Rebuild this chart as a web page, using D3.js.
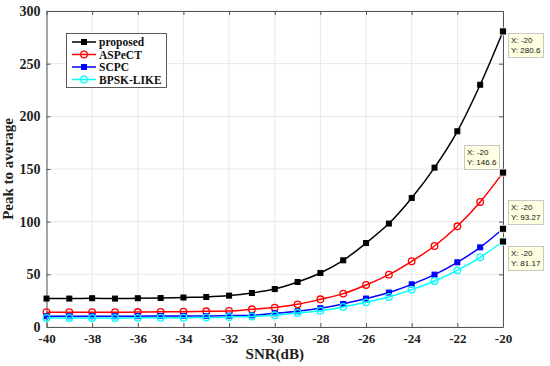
<html>
<head>
<meta charset="utf-8">
<style>
body
{
  margin:0;
  background:#fff;
}
text { font-family: "Liberation Serif", "Times New Roman", serif; }
</style>
<script src="https://cdnjs.cloudflare.com/ajax/libs/d3/7.8.5/d3.min.js"></script>
</head>
<body>
<script>
var snr = [-40,-39,-38,-37,-36,-35,-34,-33,-32,-31,-30,-29,-28,-27,-26,-25,-24,-23,-22,-21,-20];
var proposed = [27,27,27.3,27,27.3,27.5,28,28.5,29.8,32.3,36,42.7,51.3,63.3,79.7,98.2,122.5,151.3,185.8,230,280.6];
var aspect = [14,14,14,14,14.2,14.4,14.5,14.9,15.2,16.8,18.4,21.5,26.3,31.7,39.9,49.7,62.4,76.9,95.6,118.7,146.6];
var scpc = [10.2,10.2,10.2,10.2,10.3,10.4,10.5,10.5,10.8,11.1,13,14.9,17.8,21.9,27,32.7,40.5,49.7,61.4,75.6,93.27];
var bpsk = [8.6,8.6,8.6,8.6,8.7,8.8,8.9,9,9.5,10,11.1,13.3,15.5,19,23.4,28.5,35.5,43.7,53.8,66.2,81.17];
var xTicks = [-40,-38,-36,-34,-32,-30,-28,-26,-24,-22,-20];
var yTicks = [0,50,100,150,200,250,300];

var series = [
  {name:"proposed", values:proposed, color:"#000000", marker:"square"},
  {name:"ASPeCT", values:aspect, color:"#ff0000", marker:"circle"},
  {name:"SCPC", values:scpc, color:"#0000ff", marker:"square"},
  {name:"BPSK-LIKE", values:bpsk, color:"#00ffff", marker:"circle"}
];

// data tips: series index, box left, box top
var tips = [
  {s:0, bx:508, by:33},
  {s:1, bx:464, by:145},
  {s:2, bx:508, by:200},
  {s:3, bx:508, by:246}
];

var w = 550, h = 366;
var pLeft = 46.5, pRight = 503, pTop = 11, pBottom = 327;

var svg = d3.select("body").append("svg")
  .attr("width", w)
  .attr("height", h);

var x = d3.scaleLinear().domain([-40,-20]).range([pLeft, pRight]);
var y = d3.scaleLinear().domain([0,300]).range([pBottom, pTop]);

function fmt(d) { return String(d); }

// grid
svg.append("g").selectAll("line").data(xTicks).enter().append("line")
  .attr("x1", function(d){ return x(d); }).attr("x2", function(d){ return x(d); })
  .attr("y1", pTop).attr("y2", pBottom)
  .style("stroke","#e8e8e8").style("stroke-width",1);
svg.append("g").selectAll("line").data(yTicks).enter().append("line")
  .attr("y1", function(d){ return y(d); }).attr("y2", function(d){ return y(d); })
  .attr("x1", pLeft).attr("x2", pRight)
  .style("stroke","#e8e8e8").style("stroke-width",1);

// axes
var xg = svg.append("g").attr("transform","translate(0,"+pBottom+")")
  .call(d3.axisBottom(x).tickValues(xTicks).tickSizeInner(-4).tickSizeOuter(0).tickPadding(7).tickFormat(fmt));
var yg = svg.append("g").attr("transform","translate("+pLeft+",0)")
  .call(d3.axisLeft(y).tickValues(yTicks).tickSizeInner(-4).tickSizeOuter(0).tickPadding(6).tickFormat(fmt));
svg.append("g").attr("transform","translate(0,"+pTop+")")
  .call(d3.axisTop(x).tickValues(xTicks).tickSizeInner(-4).tickSizeOuter(0).tickFormat(""));
svg.append("g").attr("transform","translate("+pRight+",0)")
  .call(d3.axisRight(y).tickValues(yTicks).tickSizeInner(-4).tickSizeOuter(0).tickFormat(""));

svg.selectAll(".domain").style("stroke","#555");
svg.selectAll(".tick line").style("stroke","#555");
svg.selectAll(".tick text")
  .style("font-family","'Liberation Serif', serif")
  .style("font-weight","bold")
  .style("fill","#222");
xg.selectAll(".tick text").style("font-size","13px");
yg.selectAll(".tick text").style("font-size","14px");

svg.append("text")
  .attr("x", (pLeft+pRight)/2).attr("y", 359)
  .attr("text-anchor","middle")
  .style("font-weight","bold").style("font-size","15px").style("fill","#222")
  .text("SNR(dB)");
svg.append("text")
  .attr("transform","translate(13,"+((pTop+pBottom)/2)+") rotate(-90)")
  .attr("text-anchor","middle")
  .style("font-weight","bold").style("font-size","15px").style("fill","#222")
  .text("Peak to average");

var line = d3.line()
  .x(function(d,i){ return x(snr[i]); })
  .y(function(d){ return y(d); })
  .curve(d3.curveMonotoneX);

function drawMarker(g, type, color, cx, cy)
{
  if(type == "square")
  {
    g.append("rect").attr("x", cx-2.5).attr("y", cy-2.5)
      .attr("width",5).attr("height",5)
      .style("fill",color).style("stroke",color);
  }
  else
  {
    g.append("circle").attr("cx",cx).attr("cy",cy).attr("r",3.3)
      .style("fill","none").style("stroke",color).style("stroke-width",1.3);
  }
}

series.forEach(function(s){
  var g = svg.append("g");
  g.append("path").datum(s.values)
    .attr("d", line)
    .style("fill","none").style("stroke",s.color).style("stroke-width",1.5);
  s.values.forEach(function(v,i){
    drawMarker(g, s.marker, s.color, x(snr[i]), y(v));
  });
});

// legend
var lg = svg.append("g");
lg.append("rect").attr("x",66.5).attr("y",33.5).attr("width",100).attr("height",54)
  .style("fill","#fff").style("stroke","#333").style("stroke-width",0.8);
series.forEach(function(s,i){
  var ly = 42 + i*12.5;
  lg.append("line").attr("x1",72).attr("x2",96).attr("y1",ly).attr("y2",ly)
    .style("stroke",s.color).style("stroke-width",1.5);
  drawMarker(lg, s.marker, s.color, 84, ly);
  lg.append("text").attr("x",99).attr("y",ly+4)
    .style("font-weight","bold").style("font-size","11.5px").style("fill","#111")
    .text(s.name);
});

// data tips
tips.forEach(function(t){
  var s = series[t.s];
  var v = s.values[s.values.length-1];
  var px = x(snr[snr.length-1]), py = y(v);
  var g = svg.append("g");
  g.append("rect").attr("x",t.bx+0.5).attr("y",t.by+0.5).attr("width",35).attr("height",24)
    .style("fill","#ffffe1").style("stroke","#bbb").style("stroke-width",0.8);
  g.append("text").attr("x",t.bx+3).attr("y",t.by+10)
    .style("font-family","'Liberation Sans', Arial, sans-serif").style("font-size","8px").style("fill","#111")
    .text("X: " + snr[snr.length-1]);
  g.append("text").attr("x",t.bx+3).attr("y",t.by+20)
    .style("font-family","'Liberation Sans', Arial, sans-serif").style("font-size","8px").style("fill","#111")
    .text("Y: " + v);
  g.append("rect").attr("x",px-3.5).attr("y",py-3.5).attr("width",7).attr("height",7)
    .style("fill","#000").style("stroke","#fff").style("stroke-width",0.8);
});
</script>
</body>
</html>
